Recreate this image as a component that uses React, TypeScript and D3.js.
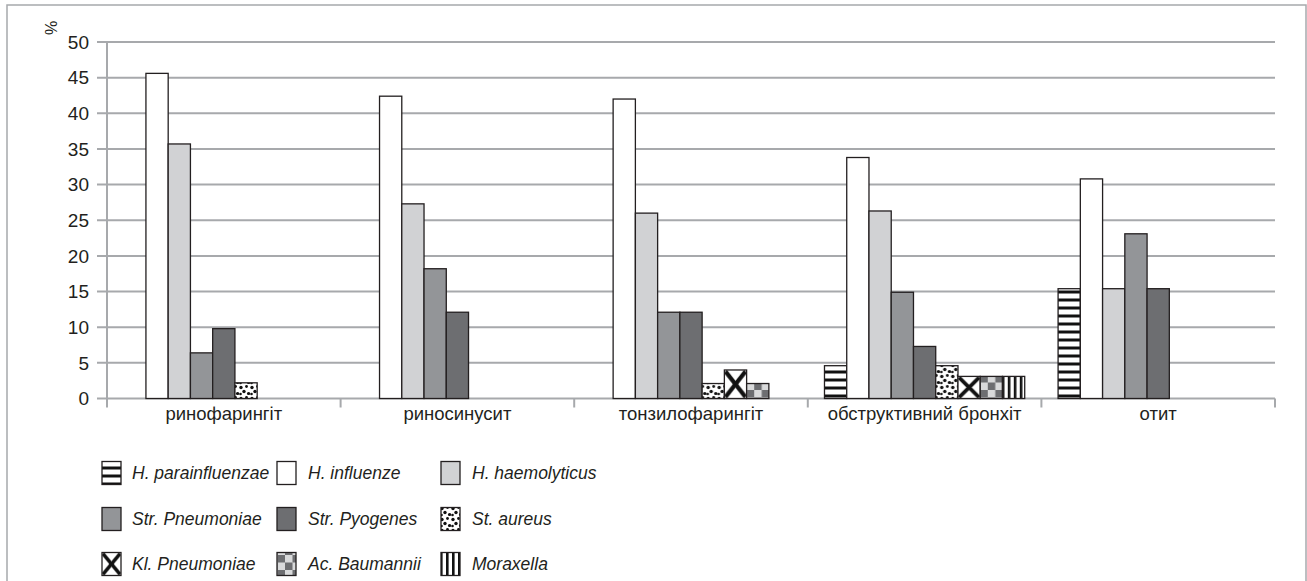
import React from "react";
import * as d3 from "d3";

// Diagnoses (x categories)
const categories = [
  "ринофарингіт",
  "риносинусит",
  "тонзилофарингіт",
  "обструктивний бронхіт",
  "отит",
];

// Share of isolates per pathogen, %, one value per diagnosis
const hParainfluenzae = [0, 0, 0, 4.6, 15.4];
const hInfluenze = [45.6, 42.4, 42.0, 33.8, 30.8];
const hHaemolyticus = [35.7, 27.3, 26.0, 26.3, 15.4];
const strPneumoniae = [6.4, 18.2, 12.1, 14.9, 23.1];
const strPyogenes = [9.8, 12.1, 12.1, 7.3, 15.4];
const stAureus = [2.2, 0, 2.1, 4.6, 0];
const klPneumoniae = [0, 0, 4.0, 3.1, 0];
const acBaumannii = [0, 0, 2.1, 3.1, 0];
const moraxella = [0, 0, 0, 3.1, 0];

const seriesNames = [
  "H. parainfluenzae",
  "H. influenze",
  "H. haemolyticus",
  "Str. Pneumoniae",
  "Str. Pyogenes",
  "St. aureus",
  "Kl. Pneumoniae",
  "Ac. Baumannii",
  "Moraxella",
];
const seriesValues = [
  hParainfluenzae,
  hInfluenze,
  hHaemolyticus,
  strPneumoniae,
  strPyogenes,
  stAureus,
  klPneumoniae,
  acBaumannii,
  moraxella,
];
const yTicks = [0, 5, 10, 15, 20, 25, 30, 35, 40, 45, 50];

const fills = [
  "url(#pHStripes)",
  "#ffffff",
  "#d1d2d4",
  "#939598",
  "#6d6e71",
  "url(#pDots)",
  "url(#pCross)",
  "url(#pChecker)",
  "url(#pVStripes)",
];

const W = 1307;
const H = 581;
const left = 107;
const right = 1275;
const top = 42;
const bottom = 398.5;
const GRID = "#a7a9ac";
const FONT = "'Liberation Sans', Arial, Helvetica, sans-serif";

export default function App() {
  const x0 = d3.scaleBand<string>().domain(categories).range([left, right]).paddingInner(0).paddingOuter(0);
  const catW = x0.bandwidth();
  const barW = catW / 10.5; // gap width 150%
  const x1 = d3
    .scaleBand<number>()
    .domain(d3.range(seriesNames.length))
    .range([0.75 * barW, 9.75 * barW])
    .padding(0);
  const y = d3.scaleLinear().domain([0, 50]).range([bottom, top]);

  const legendCols = [102, 277, 441];
  const legendTextCols = [132, 308, 472];
  const legendRows = [473, 519, 564];

  return (
    <div style={{ position: "absolute", left: 0, top: 0 }}>
      <svg width={W} height={H} style={{ display: "block", fontFamily: FONT }}>
        <defs>
          <pattern id="pHStripes" patternUnits="userSpaceOnUse" width="8" height="8">
            <rect width="8" height="8" fill="#fff" />
            <rect y="2.5" width="8" height="3" fill="#111" />
          </pattern>
          <pattern id="pVStripes" patternUnits="userSpaceOnUse" width="6" height="6">
            <rect width="6" height="6" fill="#fff" />
            <rect x="2" width="2.6" height="6" fill="#111" />
          </pattern>
          <pattern id="pDots" patternUnits="userSpaceOnUse" width="11" height="11">
            <rect width="11" height="11" fill="#fff" />
            <circle cx="2" cy="2.5" r="1.7" fill="#111" />
            <circle cx="7.5" cy="1.5" r="1.4" fill="#111" />
            <circle cx="5" cy="6.5" r="1.7" fill="#111" />
            <circle cx="9.5" cy="8.5" r="1.6" fill="#111" />
            <circle cx="1.5" cy="9" r="1.3" fill="#111" />
          </pattern>
          <pattern id="pCross" patternUnits="objectBoundingBox" patternContentUnits="objectBoundingBox" width="1" height="1">
            <rect width="1" height="1" fill="#fff" />
            <line x1="0.05" y1="0.05" x2="0.95" y2="0.95" stroke="#111" strokeWidth="0.17" />
            <line x1="0.95" y1="0.05" x2="0.05" y2="0.95" stroke="#111" strokeWidth="0.17" />
          </pattern>
          <pattern id="pChecker" patternUnits="userSpaceOnUse" width="15" height="15">
            <rect width="15" height="15" fill="#d9dadb" />
            <rect x="7.5" width="7.5" height="7.5" fill="#6d6e71" />
            <rect y="7.5" width="7.5" height="7.5" fill="#6d6e71" />
          </pattern>
        </defs>

        {/* outer frame */}
        <rect x={7} y={5} width={1299} height={600} fill="#fff" stroke={GRID} strokeWidth={1.5} />

        {/* gridlines with left tick stubs */}
        {yTicks.map((t) => (
          <line key={"g" + t} x1={97} x2={right} y1={y(t)} y2={y(t)} stroke={GRID} strokeWidth={2} />
        ))}
        {/* y axis */}
        <line x1={left} x2={left} y1={top} y2={bottom + 9} stroke={GRID} strokeWidth={2} />
        {/* category separators */}
        {categories.map((c) => (
          <line
            key={"s" + c}
            x1={(x0(c) as number) + catW}
            x2={(x0(c) as number) + catW}
            y1={bottom}
            y2={bottom + 9}
            stroke={GRID}
            strokeWidth={2}
          />
        ))}

        {/* y tick labels */}
        {yTicks.map((t) => (
          <text key={"t" + t} x={89} y={y(t)} dy="0.36em" textAnchor="end" fontSize={19} fill="#231f20">
            {t}
          </text>
        ))}
        <text transform={`translate(57,28) rotate(-90)`} textAnchor="middle" fontSize={16} fill="#231f20">
          %
        </text>

        {/* bars */}
        {categories.map((c, ci) => (
          <g key={"c" + c} transform={`translate(${x0(c)},0)`}>
            {seriesValues.map((vals, si) =>
              vals[ci] > 0 ? (
                <rect
                  key={si}
                  x={x1(si)}
                  y={y(vals[ci])}
                  width={x1.bandwidth()}
                  height={y(0) - y(vals[ci])}
                  fill={fills[si]}
                  stroke="#231f20"
                  strokeWidth={1.3}
                />
              ) : null
            )}
          </g>
        ))}

        {/* category labels */}
        {categories.map((c) => (
          <text
            key={"l" + c}
            x={(x0(c) as number) + catW / 2}
            y={420}
            textAnchor="middle"
            fontSize={18.5}
            fill="#231f20"
          >
            {c}
          </text>
        ))}

        {/* legend */}
        {seriesNames.map((name, i) => {
          const col = i % 3;
          const row = Math.floor(i / 3);
          const cy = legendRows[row];
          return (
            <g key={"lg" + name}>
              <rect
                x={legendCols[col]}
                y={cy - 11.5}
                width={19}
                height={23}
                fill={fills[i]}
                stroke="#231f20"
                strokeWidth={1.3}
              />
              <text x={legendTextCols[col]} y={cy} dy="0.36em" fontSize={17.5} fontStyle="italic" fill="#231f20">
                {name}
              </text>
            </g>
          );
        })}
      </svg>
    </div>
  );
}
